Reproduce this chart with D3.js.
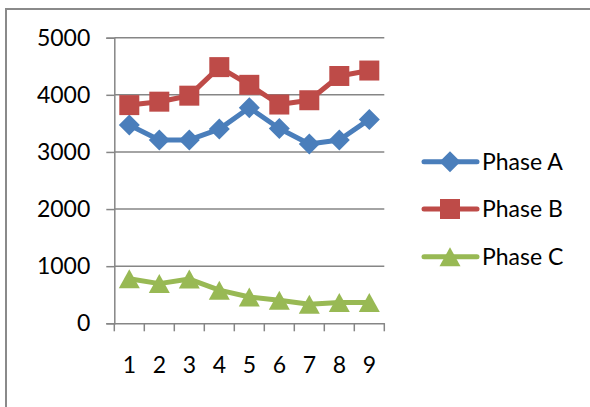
<!DOCTYPE html>
<html>
<head>
<meta charset="utf-8">
<script src="https://cdn.jsdelivr.net/npm/d3@7"></script>
<style>
  html, body { margin: 0; padding: 0; background: #fff; }
  svg { display: block; font-family: Lato, "Open Sans", sans-serif; }
</style>
</head>
<body>
<svg id="chart" width="590" height="407"></svg>
<script>
// Categories along the x axis
const categories = [1, 2, 3, 4, 5, 6, 7, 8, 9];
// Series values
const phaseA = [3470, 3210, 3210, 3400, 3775, 3410, 3140, 3210, 3570];
const phaseB = [3820, 3880, 3985, 4485, 4175, 3830, 3905, 4330, 4425];
const phaseC = [780, 695, 775, 580, 460, 405, 335, 365, 365];
const seriesNames = ["Phase A", "Phase B", "Phase C"];
const yTicks = [0, 1000, 2000, 3000, 4000, 5000];

const colors = ["#4a7ebb", "#be4b48", "#98b954"];

// Marker shapes centred on their bounding box: diamond, square, triangle
const markerPaths = [
  d3.path(), d3.path(), d3.path()
];
(function buildMarkers() {
  const dm = markerPaths[0];
  dm.moveTo(0, -10.5); dm.lineTo(10.5, 0); dm.lineTo(0, 10.5); dm.lineTo(-10.5, 0); dm.closePath();
  const sq = markerPaths[1];
  sq.rect(-10, -10, 20, 20);
  const tr = markerPaths[2];
  tr.moveTo(0, -9.5); tr.lineTo(10.5, 9.5); tr.lineTo(-10.5, 9.5); tr.closePath();
})();

const svg = d3.select("#chart");

// Outer frame (top and left edges visible)
svg.append("line").attr("x1", 5).attr("x2", 590).attr("y1", 9).attr("y2", 9)
  .attr("stroke", "#8a8a8a").attr("stroke-width", 2);
svg.append("line").attr("x1", 6).attr("x2", 6).attr("y1", 9).attr("y2", 407)
  .attr("stroke", "#8a8a8a").attr("stroke-width", 2);

const plot = { left: 114.3, right: 384.3, top: 37.7, bottom: 323.3 };

const x = d3.scaleBand().domain(categories).range([plot.left, plot.right]).padding(0);
const y = d3.scaleLinear().domain([0, 5000]).range([plot.bottom, plot.top]);

const gridColor = "#868686";

// Horizontal gridlines
svg.append("g").selectAll("line").data(yTicks.filter(d => d > 0)).join("line")
  .attr("x1", plot.left).attr("x2", plot.right)
  .attr("y1", d => y(d)).attr("y2", d => y(d))
  .attr("stroke", gridColor).attr("stroke-width", 1.5);

// Y axis
const yAxis = svg.append("g").attr("transform", `translate(${plot.left},0)`)
  .call(d3.axisLeft(y).tickValues(yTicks).tickSize(8).tickPadding(16).tickFormat(d3.format("d")));
yAxis.select(".domain").attr("stroke", gridColor).attr("stroke-width", 1.5);
yAxis.selectAll(".tick line").attr("stroke", gridColor).attr("stroke-width", 1.5);
yAxis.selectAll("text").attr("font-size", 23).attr("fill", "#000")
  .attr("font-family", "Lato, 'Open Sans', sans-serif");

// X axis with tick marks on category boundaries
const xAxis = svg.append("g").attr("transform", `translate(0,${plot.bottom})`)
  .call(d3.axisBottom(x).tickSize(0).tickPadding(33));
xAxis.select(".domain").attr("stroke", gridColor).attr("stroke-width", 1.5);
xAxis.selectAll("text").attr("font-size", 23).attr("fill", "#000")
  .attr("font-family", "Lato, 'Open Sans', sans-serif");
const boundaries = categories.map(c => x(c)).concat([x(categories[categories.length - 1]) + x.bandwidth()]);
svg.append("g").selectAll("line").data(boundaries).join("line")
  .attr("x1", d => d).attr("x2", d => d)
  .attr("y1", plot.bottom).attr("y2", plot.bottom + 8)
  .attr("stroke", gridColor).attr("stroke-width", 1.5);

const cx = c => x(c) + x.bandwidth() / 2;
const allSeries = [phaseA, phaseB, phaseC];

const line = d3.line().x((d, i) => cx(categories[i])).y(d => y(d));

allSeries.forEach((vals, s) => {
  svg.append("path").datum(vals).attr("d", line)
    .attr("fill", "none").attr("stroke", colors[s]).attr("stroke-width", 5)
    .attr("stroke-linejoin", "round");
  svg.append("g").selectAll("path").data(vals).join("path")
    .attr("transform", (d, i) => `translate(${cx(categories[i])},${y(d)})`)
    .attr("d", markerPaths[s].toString())
    .attr("fill", colors[s]);
});

// Legend
const legendY = [161.7, 209, 256.7];
seriesNames.forEach((name, s) => {
  const g = svg.append("g").attr("transform", `translate(0,${legendY[s]})`);
  g.append("line").attr("x1", 424).attr("x2", 477).attr("y1", 0).attr("y2", 0)
    .attr("stroke", colors[s]).attr("stroke-width", 5).attr("stroke-linecap", "round");
  g.append("path").attr("transform", "translate(450,0)")
    .attr("d", markerPaths[s].toString())
    .attr("fill", colors[s]);
  g.append("text").attr("x", 482).attr("y", 0).attr("dy", "0.35em")
    .attr("font-size", 23).attr("fill", "#000").text(name);
});
</script>
</body>
</html>
